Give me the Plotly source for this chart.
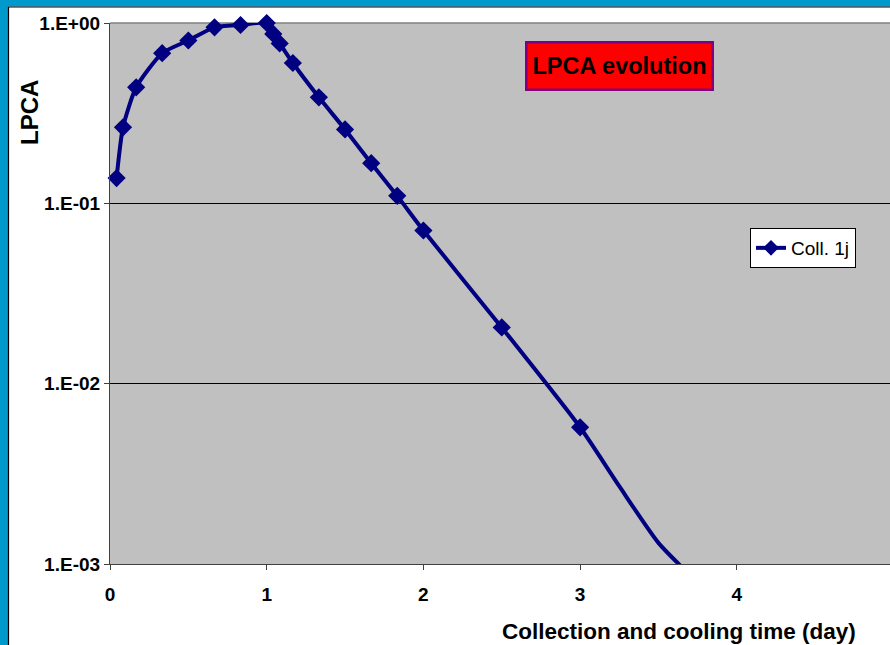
import plotly.graph_objects as go

# Data (time in days, LPCA relative value)
day_marked = [0.042, 0.083, 0.167, 0.333, 0.5, 0.667, 0.833, 1.0, 1.042, 1.083,
              1.167, 1.333, 1.5, 1.667, 1.833, 2.0, 2.5, 3.0]
lpca_marked = [0.138, 0.264, 0.44, 0.68, 0.80, 0.946, 0.975, 1.0, 0.87, 0.77,
               0.60, 0.387, 0.257, 0.167, 0.110, 0.0707, 0.0205, 0.00573]
day_tail = [3.25, 3.5, 3.75]
lpca_tail = [0.0027, 0.00131, 0.00079]

y_tickvals = [0.001, 0.01, 0.1, 1]
y_ticktext = ["1.E-03", "1.E-02", "1.E-01", "1.E+00"]
x_tickvals = [0, 1, 2, 3, 4, 5]

series_name = "Coll. 1j"
x_title = "Collection and cooling time (day)"
y_title = "LPCA"
box_title = "LPCA evolution"

FONT = "Liberation Sans, Arial, sans-serif"
NAVY = "#000080"
BLUE = "#0099CC"

x_all = day_marked + day_tail
y_all = lpca_marked + lpca_tail
sizes = [14] * len(day_marked) + [0] * len(day_tail)

fig = go.Figure()
fig.add_trace(go.Scatter(
    x=x_all, y=y_all, name=series_name, mode="lines+markers",
    line=dict(color=NAVY, width=4, shape="spline", smoothing=0.6),
    marker=dict(symbol="diamond", size=sizes, color=NAVY, opacity=1, line=dict(width=0)),
    cliponaxis=False,
))

W, H = 890, 645
L, R, T, B = 110, 0, 23, 81
pw, ph = W - L - R, H - T - B

def px(x):
    return (x - L) / pw

def py(y):
    return (H - B - y) / ph

shapes = [
    dict(type="rect", xref="paper", yref="paper", x0=px(-2), x1=px(8), y0=py(H + 2), y1=py(-2),
         fillcolor=BLUE, line=dict(width=0), layer="above"),
    dict(type="rect", xref="paper", yref="paper", x0=px(-2), x1=px(W + 2), y0=py(6.5), y1=py(-2),
         fillcolor=BLUE, line=dict(width=0), layer="above"),
    dict(type="line", xref="paper", yref="paper", x0=px(8.5), x1=px(8.5), y0=py(H + 2), y1=py(7),
         line=dict(color="black", width=1.2), layer="above"),
    dict(type="line", xref="paper", yref="paper", x0=px(8), x1=px(W + 2), y0=py(7), y1=py(7),
         line=dict(color="black", width=1.2), layer="above"),
    dict(type="line", xref="paper", yref="paper", x0=0, x1=1, y0=1, y1=1,
         line=dict(color="#808080", width=1.5), layer="below"),
]

annotations = [
    dict(text=y_title, xref="paper", yref="paper", x=px(29), y=py(113), textangle=-90,
         showarrow=False, xanchor="center", yanchor="middle",
         font=dict(family=FONT, size=24, color="black", weight="bold")),
    dict(text=x_title, xref="paper", yref="paper", x=px(679), y=py(631),
         showarrow=False, xanchor="center", yanchor="middle",
         font=dict(family=FONT, size=22.5, color="black", weight="bold")),
    dict(text=box_title, xref="paper", yref="paper", x=px(619.5), y=py(66),
         showarrow=False, xanchor="center", yanchor="middle",
         width=182, height=43, bgcolor="#FF0000", bordercolor="#800080",
         borderwidth=2.5, borderpad=1,
         font=dict(family=FONT, size=23.5, color="black", weight="bold")),
]

fig.update_layout(
    width=W, height=H,
    margin=dict(l=L, r=R, t=T, b=B, pad=0),
    paper_bgcolor="white", plot_bgcolor="#C0C0C0",
    font=dict(family=FONT, color="black"),
    showlegend=True,
    legend=dict(x=px(750), y=py(228), xanchor="left", yanchor="top",
                bgcolor="white", bordercolor="black", borderwidth=1,
                font=dict(family=FONT, size=19, color="black"),
                itemwidth=30, tracegroupgap=0),
    shapes=shapes, annotations=annotations,
    xaxis=dict(range=[0, pw / 156.7], tickvals=x_tickvals, showgrid=False, zeroline=False,
               showline=True, linecolor="#404040", linewidth=1.2,
               ticks="outside", ticklen=5, tickcolor="#404040",
               tickfont=dict(family=FONT, size=19, color="black", weight="bold"),
               ticklabelstandoff=8),
    yaxis=dict(type="log", range=[-3, 0], tickvals=y_tickvals, ticktext=y_ticktext,
               showgrid=True, gridcolor="black", gridwidth=1, zeroline=False,
               showline=True, linecolor="#404040", linewidth=1.2,
               ticks="outside", ticklen=5, tickcolor="#404040",
               tickfont=dict(family=FONT, size=19, color="black", weight="bold")),
)

fig.write_html("out.html")
